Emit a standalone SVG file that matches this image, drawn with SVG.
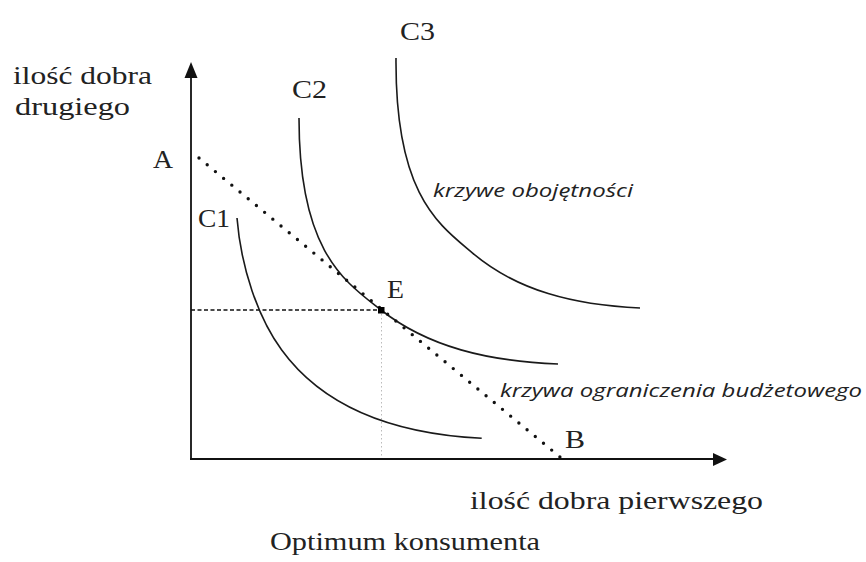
<svg xmlns="http://www.w3.org/2000/svg" width="866" height="562" viewBox="0 0 866 562">
<style>
.serif{font-family:"Liberation Serif","Times New Roman",serif;font-size:26px;fill:#222}
.ital{font-family:"Open Sans","Liberation Sans",sans-serif;font-style:italic;font-size:18px;fill:#222}
.axis{stroke:#111;stroke-width:1.8;fill:none}
.curve{stroke:#1a1a1a;stroke-width:1.6;fill:none}
</style>
<rect width="866" height="562" fill="#fff"/>
<g id="axes">
<line class="axis" x1="191" y1="459" x2="191" y2="72"/>
<polygon points="191,62 184.5,78 197.5,78" fill="#111"/>
<line class="axis" x1="190" y1="459" x2="716" y2="459"/>
<polygon points="727,459.5 713,453 713,466" fill="#111"/>
</g>
<g id="guides">
<line x1="191" y1="310" x2="381" y2="310" stroke="#111" stroke-width="1.3" stroke-dasharray="4 2.5"/>
<line x1="381.5" y1="314" x2="381.5" y2="458" stroke="#bbb" stroke-width="1" stroke-dasharray="1.5 2.5"/>
</g>
<g id="curve-C1"><path class="curve" d="M237,218 C241,268 258.1,317.7 281.7,350 C320,402.5 386.7,433.55 481.7,438.3"/></g>
<g id="curve-C2"><path class="curve" d="M299,118 C299,253 345.6,282.2 381,310 C428.2,347.1 488,361.2 558,364"/></g>
<g id="curve-C3"><path class="curve" d="M396,58 C395,195.2 439.1,224.8 472.6,253.1 C517.2,290.8 573.8,305.1 640,308"/></g>
<g id="budget-line"><line x1="199" y1="158" x2="560" y2="457" stroke="#111" stroke-width="3.4" stroke-linecap="round" stroke-dasharray="0 10.65"/></g>
<g id="point-E"><rect x="378" y="307" width="6.5" height="6.5" fill="#000"/></g>
<g id="labels">
<text class="serif" x="13" y="84" textLength="139" lengthAdjust="spacingAndGlyphs">ilość dobra</text>
<text class="serif" x="15" y="115" textLength="115" lengthAdjust="spacingAndGlyphs">drugiego</text>
<text class="serif" x="153" y="168" textLength="20" lengthAdjust="spacingAndGlyphs">A</text>
<text class="serif" x="198" y="227" textLength="32" lengthAdjust="spacingAndGlyphs">C1</text>
<text class="serif" x="292" y="98" textLength="35" lengthAdjust="spacingAndGlyphs">C2</text>
<text class="serif" x="400" y="40" textLength="35" lengthAdjust="spacingAndGlyphs">C3</text>
<text class="serif" x="387" y="298" textLength="17" lengthAdjust="spacingAndGlyphs">E</text>
<text class="serif" x="565" y="448" textLength="20" lengthAdjust="spacingAndGlyphs">B</text>
<text class="serif" x="470" y="509" textLength="293" lengthAdjust="spacingAndGlyphs">ilość dobra pierwszego</text>
<text class="serif" x="270" y="550" textLength="270" lengthAdjust="spacingAndGlyphs">Optimum konsumenta</text>
<text class="ital" x="433" y="197" textLength="200" lengthAdjust="spacingAndGlyphs">krzywe obojętności</text>
<text class="ital" x="500" y="397" textLength="362" lengthAdjust="spacingAndGlyphs">krzywa ograniczenia budżetowego</text>
</g>
</svg>
